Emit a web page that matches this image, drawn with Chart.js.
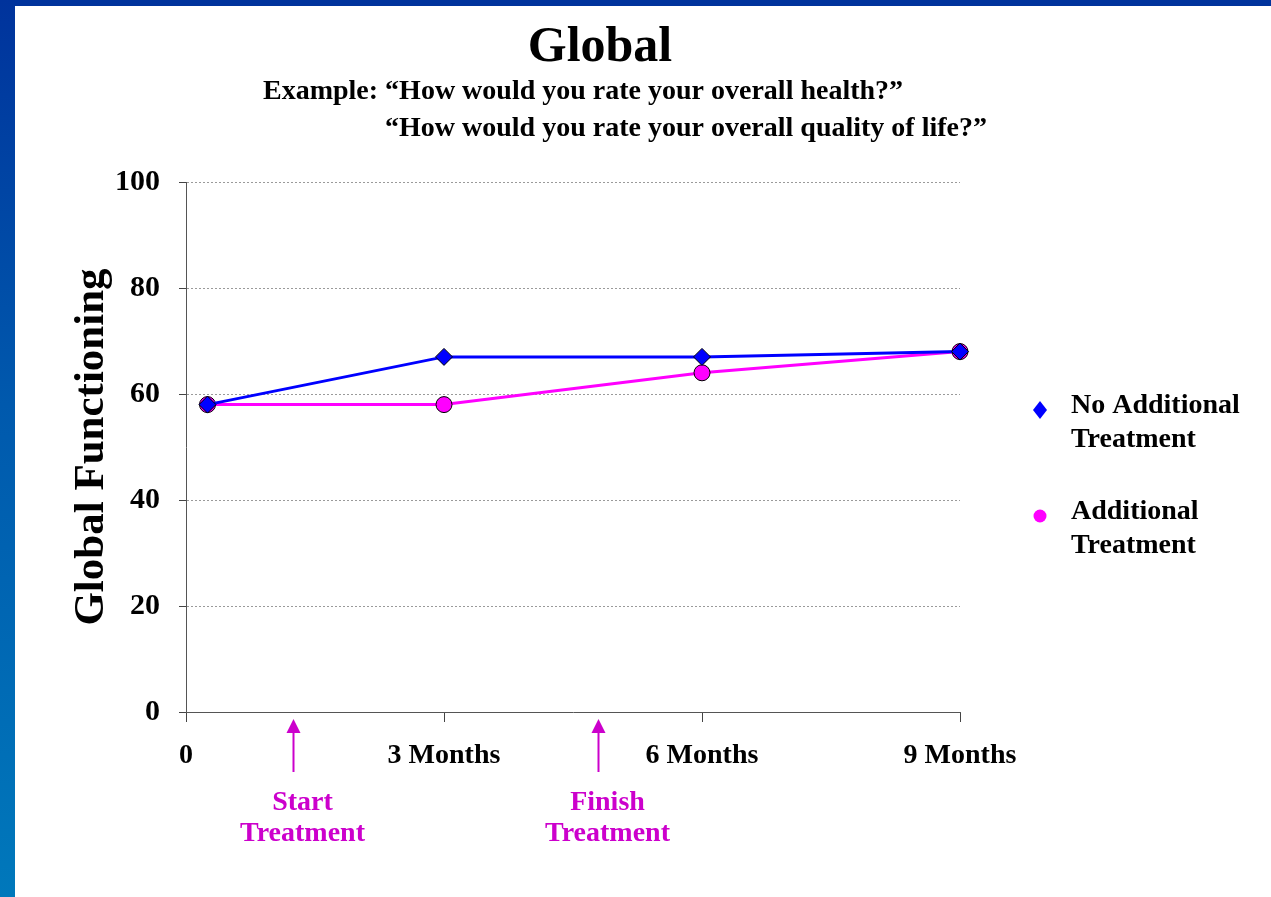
<!DOCTYPE html>
<html>
<head>
<meta charset="utf-8">
<title>Global</title>
<script src="https://cdn.jsdelivr.net/npm/chart.js@4.4.1/dist/chart.umd.min.js"></script>
<style>
  html, body { margin: 0; padding: 0; background: #ffffff; }
  #frame { position: relative; width: 1271px; height: 897px; overflow: hidden; background: #ffffff; }
  #bandTop { position: absolute; left: 0; top: 0; width: 1271px; height: 6px; background: #00339c; }
  #bandLeft { position: absolute; left: 0; top: 0; width: 15px; height: 897px;
    background: linear-gradient(to bottom, #00339c 0%, #0059ad 45%, #0078bb 100%); }
  #chart { position: absolute; left: 0; top: 0; }
</style>
</head>
<body>
<div id="frame">
  <div id="bandTop"></div>
  <div id="bandLeft"></div>
  <canvas id="chart" width="1271" height="897"></canvas>
</div>
<script>
// Time points in months and the global functioning score at each visit
const visitMonths = [0.25, 3, 6, 9];
const noAdditionalScores = [58, 67, 67, 68];
const additionalScores = [58, 58, 64, 68];

// Axis tick labels
const monthTickValues = [0, 3, 6, 9];
const monthTickLabels = ['0', '3 Months', '6 Months', '9 Months'];

// Series names (two-line legend entries)
const seriesNames = [['No Additional', 'Treatment'], ['Additional', 'Treatment']];

// Treatment phase markers along the time axis
const phaseMonths = [1.25, 4.8];
const phaseLabels = [['Start', 'Treatment'], ['Finish', 'Treatment']];

const titleText = 'Global';
const subtitleLines = [
  'Example: \u201cHow would you rate your overall health?\u201d',
  '\u201cHow would you rate your overall quality of life?\u201d'
];

const SERIF = '"Liberation Serif", "Times New Roman", serif';
const BLUE = '#0000ff';
const PINK = '#ff00ff';
const MARKER = '#cc00cc';

function pairs(xs, ys) {
  return xs.map((x, i) => ({ x: x, y: ys[i] }));
}

// Heading text above the plot
const headingPlugin = {
  id: 'heading',
  afterDraw(chart) {
    const ctx = chart.ctx;
    ctx.save();
    ctx.fillStyle = '#000';
    ctx.textBaseline = 'alphabetic';
    ctx.textAlign = 'center';
    ctx.font = 'bold 50px ' + SERIF;
    ctx.fillText(titleText, 600, 61);
    ctx.textAlign = 'left';
    ctx.font = 'bold 28px ' + SERIF;
    ctx.fillText(subtitleLines[0], 263, 99);
    ctx.fillText(subtitleLines[1], 385, 136);
    ctx.restore();
  }
};

// Legend at the right, using each dataset's point style and colour
const sideLegendPlugin = {
  id: 'sideLegend',
  afterDraw(chart) {
    const ctx = chart.ctx;
    const rows = [410, 516];
    ctx.save();
    chart.data.datasets.forEach((ds, i) => {
      const y = rows[i];
      ctx.fillStyle = ds.pointBackgroundColor;
      ctx.beginPath();
      if (ds.pointStyle === 'rectRot') {
        ctx.moveTo(1040, y - 9);
        ctx.lineTo(1047, y);
        ctx.lineTo(1040, y + 9);
        ctx.lineTo(1033, y);
        ctx.closePath();
      } else {
        ctx.arc(1040, y, 6.5, 0, Math.PI * 2);
      }
      ctx.fill();
      ctx.fillStyle = '#000';
      ctx.font = 'bold 28px ' + SERIF;
      ctx.textAlign = 'left';
      ctx.textBaseline = 'alphabetic';
      ds.label.forEach((line, j) => ctx.fillText(line, 1071, y + 3 + j * 34));
    });
    ctx.restore();
  }
};

// Arrows marking the start and end of treatment below the time axis
const phasePlugin = {
  id: 'phases',
  afterDraw(chart) {
    const ctx = chart.ctx;
    const xs = chart.scales.x;
    const base = chart.chartArea.bottom;
    ctx.save();
    ctx.fillStyle = MARKER;
    ctx.strokeStyle = MARKER;
    phaseMonths.forEach((m, i) => {
      const px = Math.round(xs.getPixelForValue(m)) - 0.5;
      ctx.lineWidth = 2;
      ctx.beginPath();
      ctx.moveTo(px, base + 20);
      ctx.lineTo(px, base + 60);
      ctx.stroke();
      ctx.beginPath();
      ctx.moveTo(px, base + 7);
      ctx.lineTo(px + 7, base + 21);
      ctx.lineTo(px - 7, base + 21);
      ctx.closePath();
      ctx.fill();
      ctx.font = 'bold 28px ' + SERIF;
      ctx.textAlign = 'center';
      ctx.textBaseline = 'alphabetic';
      phaseLabels[i].forEach((line, j) => ctx.fillText(line, px + 9, base + 98 + j * 31));
    });
    ctx.restore();
  }
};

new Chart(document.getElementById('chart'), {
  type: 'line',
  data: {
    datasets: [
      {
        label: seriesNames[0],
        data: pairs(visitMonths, noAdditionalScores),
        borderColor: BLUE,
        borderWidth: 3,
        pointStyle: 'rectRot',
        pointRadius: 8.5,
        pointHoverRadius: 8.5,
        pointBackgroundColor: BLUE,
        pointBorderColor: '#000',
        pointBorderWidth: 1,
        clip: false,
        tension: 0
      },
      {
        label: seriesNames[1],
        data: pairs(visitMonths, additionalScores),
        borderColor: PINK,
        borderWidth: 3,
        pointStyle: 'circle',
        pointRadius: 8,
        pointHoverRadius: 8,
        pointBackgroundColor: PINK,
        pointBorderColor: '#000',
        pointBorderWidth: 1,
        clip: false,
        tension: 0
      }
    ]
  },
  options: {
    responsive: false,
    animation: false,
    events: [],
    layout: { padding: { left: 0, top: 182, right: 311, bottom: 0 } },
    plugins: {
      legend: { display: false },
      tooltip: { enabled: false },
      title: { display: false }
    },
    scales: {
      x: {
        type: 'linear',
        position: 'bottom',
        min: 0,
        max: 9,
        afterFit(scale) { scale.height = 185; },
        afterBuildTicks(scale) {
          scale.ticks = monthTickValues.map(v => ({ value: v }));
        },
        ticks: {
          autoSkip: false,
          maxRotation: 0,
          padding: 17,
          color: '#000',
          font: { family: SERIF, size: 28, weight: 'bold' },
          callback: (v) => monthTickLabels[monthTickValues.indexOf(v)]
        },
        grid: {
          drawOnChartArea: false,
          drawTicks: true,
          tickLength: 10,
          tickColor: '#444',
          tickWidth: 1
        },
        border: { display: true, color: '#555', width: 1 }
      },
      y: {
        min: 0,
        max: 100,
        afterFit(scale) { scale.width = 186; },
        ticks: {
          stepSize: 20,
          padding: 19,
          color: '#000',
          font: { family: SERIF, size: 30, weight: 'bold' }
        },
        grid: {
          color: (c) => (c.tick && c.tick.value === 0 ? 'rgba(0,0,0,0)' : '#9a9a9a'),
          lineWidth: 1,
          tickLength: 7,
          tickColor: '#444',
          tickWidth: 1
        },
        border: { display: true, color: '#555', width: 1, dash: [2, 2] },
        title: {
          display: true,
          text: 'Global Functioning',
          color: '#000',
          font: { family: SERIF, size: 43, weight: 'bold' },
          padding: { top: 66, bottom: 0 }
        }
      }
    }
  },
  plugins: [headingPlugin, sideLegendPlugin, phasePlugin]
});
</script>
</body>
</html>
